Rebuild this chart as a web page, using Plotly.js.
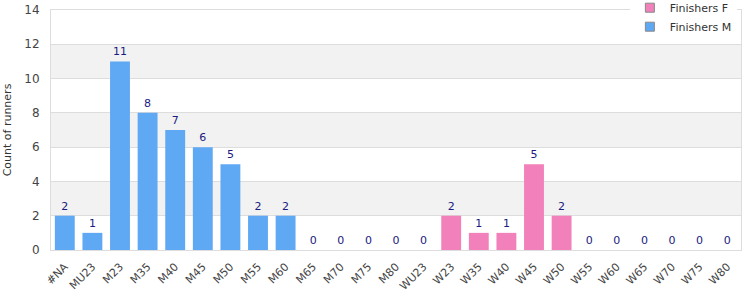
<!DOCTYPE html>
<html><head><meta charset="utf-8">
<script src="https://cdn.plot.ly/plotly-3.0.1.min.js"></script>
<style>html,body{margin:0;padding:0;background:#fff}#chart{width:750px;height:300px}</style>
</head><body><div id="chart"></div>
<script>
const categories = ["#NA","MU23","M23","M35","M40","M45","M50","M55","M60","M65","M70","M75","M80","WU23","W23","W35","W40","W45","W50","W55","W60","W65","W70","W75","W80"];
const maleValues = [2,1,11,8,7,6,5,2,2,0,0,0,0,null,null,null,null,null,null,null,null,null,null,null,null];
const femaleValues = [null,null,null,null,null,null,null,null,null,null,null,null,null,0,2,1,1,5,2,0,0,0,0,0,0];
const yTicks = [0,2,4,6,8,10,12,14];
const bands = [[2,4],[6,8],[10,12]];

const blue = "#5fa8f4", pink = "#f280ba";
const labelFont = {family:"DejaVu Sans, Verdana, sans-serif", size:11, color:"#1a1a80"};

const traces = [
  {type:"bar", x:categories, y:femaleValues, name:"Finishers F", marker:{color:pink}, showlegend:false,
   text:femaleValues.map(v=>v===null?"":String(v)), textposition:"outside", textfont:labelFont, cliponaxis:false, width:0.72, hoverinfo:"x+y"},
  {type:"bar", x:categories, y:maleValues, name:"Finishers M", marker:{color:blue}, showlegend:false,
   text:maleValues.map(v=>v===null?"":String(v)), textposition:"outside", textfont:labelFont, cliponaxis:false, width:0.72, hoverinfo:"x+y"},
  {type:"scatter", mode:"markers", x:[null], y:[null], name:"Finishers F",
   marker:{symbol:"square", size:9, color:pink, line:{color:"#888", width:1}}},
  {type:"scatter", mode:"markers", x:[null], y:[null], name:"Finishers M",
   marker:{symbol:"square", size:9, color:blue, line:{color:"#888", width:1}}}
];

const layout = {
  width:750, height:300,
  margin:{l:51, r:9, t:10, b:50, autoexpand:false},
  paper_bgcolor:"#fff", plot_bgcolor:"#fff",
  barmode:"overlay",
  font:{family:"DejaVu Sans, Verdana, sans-serif", size:11, color:"#444"},
  showlegend:true,
  legend:{x:0.994, xanchor:"right", yref:"paper", y:1.07, yanchor:"top", bgcolor:"#fff",
          font:{size:11, color:"#333"}, tracegroupgap:0, itemwidth:30},
  xaxis:{type:"category", categoryorder:"array", categoryarray:categories, tickangle:-45,
         tickfont:{size:11, color:"#444"}, showgrid:false, showline:true, linecolor:"#ddd", mirror:true,
         ticks:"", ticklabelstandoff:5, fixedrange:true},
  yaxis:{range:[0,14], tickvals:yTicks, ticktext:yTicks.map(String), showgrid:true, gridcolor:"#ddd",
         showline:true, linecolor:"#ddd", mirror:true, zeroline:false, ticks:"", ticklabelstandoff:8,
         tickfont:{size:12, color:"#444"},
         title:{text:"Count of runners", font:{size:11, color:"#333"}, standoff:10}},
  shapes: bands.map(b=>({type:"rect", xref:"paper", yref:"y", x0:0, x1:1, y0:b[0], y1:b[1],
          fillcolor:"#f2f2f2", line:{width:0}, layer:"below"}))
};

Plotly.newPlot("chart", traces, layout, {displayModeBar:false, staticPlot:true});
</script></body></html>
